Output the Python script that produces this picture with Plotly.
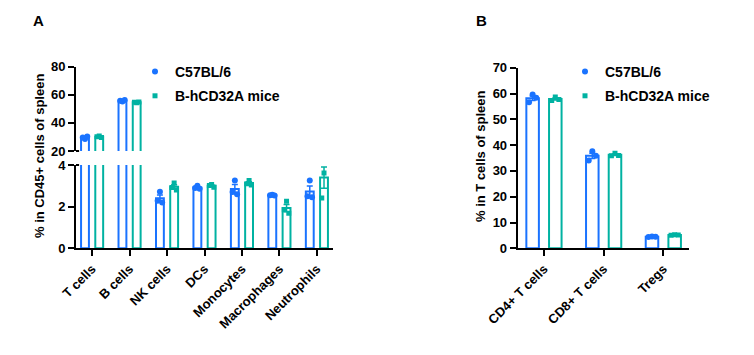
import numpy as np
import plotly.graph_objects as go

# ---------------- data ----------------
cats_a = ["T cells", "B cells", "NK cells", "DCs", "Monocytes", "Macrophages", "Neutrophils"]
c57_a = [[28.6, 29.6, 30.3], [55.2, 55.6, 56.2], [2.72, 2.28, 2.20], [3.00, 2.90, 2.86],
         [3.26, 2.70, 2.60], [2.57, 2.55, 2.53], [3.25, 2.50, 2.45]]
hcd_a = [[30.6, 30.1, 29.6], [54.3, 54.6, 54.8], [3.14, 2.92, 2.80], [3.06, 3.02, 2.93],
         [3.26, 3.10, 3.04], [2.26, 1.85, 1.68], [3.62, 2.42, 4.15]]

cats_b = ["CD4+ T cells", "CD8+ T cells", "Tregs"]
c57_b = [[59.6, 56.6, 58.4], [37.6, 34.0, 35.9], [4.6, 4.4, 4.5]]
hcd_b = [[58.6, 57.3, 57.7], [36.8, 35.9, 36.0], [5.3, 5.1, 5.2]]

series_names = ["C57BL/6", "B-hCD32A mice"]
yticks_a_low = [0, 2, 4]
yticks_a_high = [20, 40, 60, 80]
yticks_b = [0, 10, 20, 30, 40, 50, 60, 70]

# ---------------- style ----------------
BLUE = "#1a73ff"
TEAL = "#00b2a2"
FONT = "Arial, Liberation Sans, sans-serif"
OFFSET = 0.19
BARW = 0.21
JIT = [0.0, -0.06, 0.06]

PAGE_M = 8            # default page body margin
W, H = 754 - PAGE_M, 355 - PAGE_M


def px_x(p):
    return (p - PAGE_M) / W


def px_y(p):
    return 1 - (p - PAGE_M) / H


fig = go.Figure()


def stats(groups):
    arr = [np.array(g, dtype=float) for g in groups]
    means = [a.mean() for a in arr]
    sems = [a.std(ddof=1) / np.sqrt(len(a)) for a in arr]
    return means, sems


def add_series(groups, sign, color, symbol, msize, xa, ya, name, legend, showleg):
    means, sems = stats(groups)
    xs = [i + sign * OFFSET for i in range(len(groups))]
    fig.add_trace(go.Bar(
        x=xs, y=means, width=BARW, xaxis=xa, yaxis=ya,
        marker=dict(color="white", line=dict(color=color, width=2)),
        error_y=dict(type="data", array=sems, color=color, thickness=1.5, width=3),
        showlegend=False, hoverinfo="skip"))
    px_, py_ = [], []
    for i, g in enumerate(groups):
        for j, v in enumerate(g):
            px_.append(i + sign * OFFSET + JIT[j % len(JIT)])
            py_.append(v)
    fig.add_trace(go.Scatter(
        x=px_, y=py_, mode="markers", xaxis=xa, yaxis=ya,
        marker=dict(color=color, symbol=symbol, size=msize),
        name=name, legend=legend, legendgroup=legend + name,
        showlegend=showleg, cliponaxis=True))


# Panel A : lower (y) and upper (y2) segments
for ya, show in (("y", True), ("y2", False)):
    add_series(c57_a, -1, BLUE, "circle", 6, "x", ya, series_names[0], "legend", show)
    add_series(hcd_a, +1, TEAL, "square", 5, "x", ya, series_names[1], "legend", show)

# Panel B
add_series(c57_b, -1, BLUE, "circle", 6, "x2", "y3", series_names[0], "legend2", True)
add_series(hcd_b, +1, TEAL, "square", 5, "x2", "y3", series_names[1], "legend2", True)

tickfont = dict(family=FONT, size=13, color="black", weight="bold")
axis_common = dict(showline=True, linecolor="black", linewidth=2, ticks="outside",
                   ticklen=6, tickwidth=2, tickcolor="black", showgrid=False,
                   zeroline=False, tickfont=tickfont, fixedrange=True, automargin=False)

legfont = dict(family=FONT, size=14, color="black", weight="bold")

fig.update_layout(
    width=W, height=H, margin=dict(l=0, r=0, t=0, b=0, autoexpand=False),
    plot_bgcolor="white", paper_bgcolor="white",
    barmode="overlay",
    font=dict(family=FONT, color="black"),
    xaxis=dict(domain=[px_x(76), px_x(333)], range=[-0.43, 6.43], anchor="y",
               tickvals=list(range(len(cats_a))), ticktext=cats_a, tickangle=-45,
               **axis_common),
    yaxis=dict(domain=[px_y(248.3), px_y(165)], range=[0, 4], anchor="x",
               tickvals=yticks_a_low, **axis_common),
    yaxis2=dict(domain=[px_y(151), px_y(66.5)], range=[20, 80], anchor="x",
                tickvals=yticks_a_high, **axis_common),
    xaxis2=dict(domain=[px_x(517.7), px_x(689)], range=[-0.44, 2.43], anchor="y3",
                tickvals=list(range(len(cats_b))), ticktext=cats_b, tickangle=-45,
                **axis_common),
    yaxis3=dict(domain=[px_y(248.3), px_y(67.7)], range=[0, 70], anchor="x2",
                tickvals=yticks_b, **axis_common),
    legend=dict(x=px_x(135), y=px_y(56), xanchor="left", yanchor="top",
                font=legfont, bgcolor="rgba(0,0,0,0)", tracegroupgap=3,
                itemsizing="trace"),
    legend2=dict(x=px_x(565), y=px_y(56), xanchor="left", yanchor="top",
                 font=legfont, bgcolor="rgba(0,0,0,0)", tracegroupgap=3,
                 itemsizing="trace"),
)

# axis break caps
fig.add_shape(type="line", xref="x domain", yref="y2 domain", x0=0, x1=0.012, y0=0, y1=0,
              line=dict(color="black", width=2), layer="above")
fig.add_shape(type="line", xref="x domain", yref="y domain", x0=0, x1=0.012, y0=1, y1=1,
              line=dict(color="black", width=2), layer="above")

# titles and panel labels
titlefont = dict(family=FONT, size=13, color="black", weight="bold")
ann_common = dict(xref="paper", yref="paper", showarrow=False, xanchor="center", yanchor="middle")
fig.add_annotation(text="% in CD45+ cells of spleen", textangle=-90,
                   x=px_x(40), y=px_y(156), font=titlefont, **ann_common)
fig.add_annotation(text="% in T cells of spleen", textangle=-90,
                   x=px_x(481), y=px_y(156), font=titlefont, **ann_common)
fig.add_annotation(text="A", x=px_x(38), y=px_y(20),
                   font=dict(family=FONT, size=15, color="black", weight="bold"), **ann_common)
fig.add_annotation(text="B", x=px_x(481), y=px_y(20),
                   font=dict(family=FONT, size=15, color="black", weight="bold"), **ann_common)

fig.write_html("out.html")
